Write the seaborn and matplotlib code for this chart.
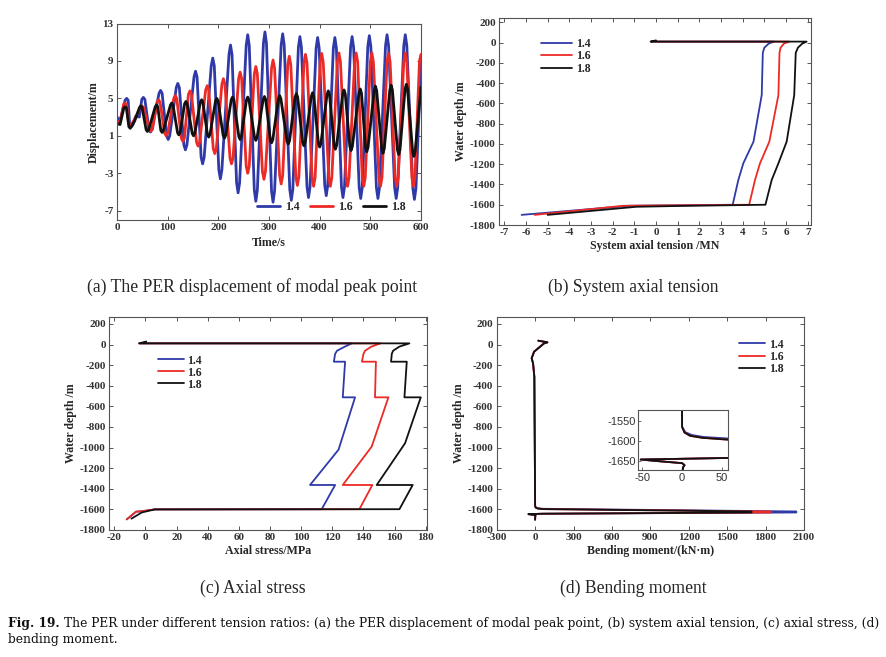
import matplotlib
matplotlib.use("Agg")
import matplotlib.pyplot as plt
import pandas as pd
import seaborn as sns

# --- data ---
ratios = ["1.4", "1.6", "1.8"]
colors = ["#2f3aa8", "#ec2a26", "#111111"]

# (a) displacement of modal peak point (time s, displacement m), peaks/troughs with their shoulders
blue_pts = [(0, 3.0), (6, 2.6), (16, 4.8), (19, 5.0), (22, 4.8), (25, 2.15), (28, 2.0), (31, 2.15), (37, 3.1), (44, 3.0),
            (49, 4.9), (52, 5.1), (55, 4.9), (63, 1.68), (66, 1.4), (69, 1.68), (83, 5.55), (86, 5.85), (89, 5.55),
            (98, 0.99), (101, 0.6), (104, 0.99), (117, 6.16), (120, 6.6), (123, 6.16), (132, 0.02), (135, -0.5), (138, 0.02),
            (152, 7.28), (155, 7.9), (158, 7.28), (166, -1.29), (169, -2.0), (172, -1.29), (186, 8.48), (189, 9.3), (192, 8.48),
            (201, -2.64), (204, -3.6), (207, -2.64), (221, 9.68), (224, 10.7), (227, 9.68), (236, -4.0), (239, -5.1), (242, -4.0),
            (255, 10.65), (258, 11.8), (261, 10.65), (271, -4.8), (274, -6.0), (277, -4.8), (289, 10.88), (292, 12.1), (295, 10.88),
            (305, -4.9), (308, -6.1), (311, -4.9), (324, 10.7), (327, 11.9), (330, 10.7), (341, -4.73), (344, -5.9), (347, -4.73),
            (358, 10.45), (361, 11.6), (364, 10.45), (375, -4.46), (378, -5.6), (381, -4.46), (393, 10.37), (396, 11.5), (399, 10.37),
            (410, -4.27), (413, -5.4), (416, -4.27), (427, 10.37), (430, 11.5), (433, 10.37), (443, -4.46), (446, -5.6), (449, -4.46),
            (461, 10.45), (464, 11.6), (467, 10.45), (478, -4.55), (481, -5.7), (484, -4.55), (495, 10.53), (498, 11.7), (501, 10.53),
            (512, -4.55), (515, -5.7), (518, -4.55), (530, 10.62), (533, 11.8), (536, 10.62), (548, -4.55), (551, -5.7), (554, -4.55),
            (566, 10.62), (569, 11.8), (572, 10.62), (584, -4.63), (587, -5.8), (590, -4.63), (600, 8.8)]
red_pts = [(0, 2.6), (6, 2.4), (13, 4.35), (16, 4.5), (19, 4.35), (23, 2.25), (26, 2.1), (29, 2.25), (36, 2.9),
           (46, 4.06), (49, 4.2), (52, 4.06), (64, 1.7), (67, 1.5), (70, 1.7), (79, 4.6), (82, 4.85), (85, 4.6),
           (94, 1.27), (97, 1.0), (100, 1.27), (112, 4.99), (115, 5.3), (118, 4.99), (127, 0.75), (130, 0.4), (133, 0.75),
           (141, 5.42), (144, 5.8), (147, 5.42), (157, 0.32), (160, -0.1), (163, 0.32), (175, 5.89), (178, 6.35), (181, 5.89),
           (190, -0.38), (193, -0.9), (196, -0.38), (207, 6.5), (210, 7.1), (213, 6.5), (223, -1.37), (226, -2.0), (229, -1.37),
           (240, 7.1), (243, 7.8), (246, 7.1), (255, -2.25), (258, -3.0), (261, -2.25), (271, 7.6), (274, 8.4), (277, 7.6),
           (287, -2.79), (290, -3.65), (293, -2.79), (305, 8.22), (308, 9.1), (311, 8.22), (321, -3.24), (324, -4.15), (327, -3.24),
           (337, 8.58), (340, 9.5), (343, 8.58), (353, -3.36), (356, -4.3), (359, -3.36), (369, 8.76), (372, 9.7), (375, 8.76),
           (385, -3.45), (388, -4.4), (391, -3.45), (401, 8.85), (404, 9.8), (407, 8.85), (418, -3.45), (421, -4.4), (424, -3.45),
           (435, 8.9), (438, 9.85), (441, 8.9), (452, -3.45), (455, -4.4), (458, -3.45), (469, 8.9), (472, 9.85), (475, 8.9),
           (484, -3.45), (487, -4.4), (490, -3.45), (500, 8.9), (503, 9.85), (506, 8.9), (517, -3.45), (520, -4.4), (523, -3.45),
           (533, 8.9), (536, 9.85), (539, 8.9), (549, -3.45), (552, -4.4), (555, -3.45), (566, 8.9), (569, 9.85), (572, 8.9),
           (582, -3.45), (585, -4.4), (588, -3.45), (597, 9.0), (600, 9.7)]
black_pts = [(0, 2.3), (6, 2.2), (13.5, 3.97), (16, 4.1), (18.5, 3.97), (23.5, 1.96), (26, 1.8), (28.5, 1.96), (35, 2.6),
             (44.5, 4.03), (47, 4.2), (49.5, 4.03), (57.5, 1.65), (60, 1.46), (62.5, 1.65), (75.5, 4.11), (78, 4.3), (80.5, 4.11),
             (86.5, 1.56), (89, 1.36), (91.5, 1.56), (105.5, 4.29), (108, 4.5), (110.5, 4.29), (119.5, 1.33), (122, 1.1), (124.5, 1.33),
             (133.5, 4.43), (136, 4.67), (138.5, 4.43), (148.5, 1.25), (151, 1.0), (153.5, 1.25), (164.5, 4.59), (167, 4.85), (169.5, 4.59),
             (178.5, 1.13), (181, 0.86), (183.5, 1.13), (194.5, 4.72), (197, 5.0), (199.5, 4.72), (209.5, 1.04), (212, 0.75), (214.5, 1.04),
             (225.5, 4.84), (228, 5.14), (230.5, 4.84), (240.5, 0.91), (243, 0.6), (245.5, 0.91), (255.5, 4.83), (258, 5.14), (260.5, 4.83),
             (271.5, 0.81), (274, 0.5), (276.5, 0.81), (288.5, 4.88), (291, 5.2), (293.5, 4.88), (302.5, 0.58), (305, 0.25), (307.5, 0.58),
             (318.5, 4.95), (321, 5.3), (323.5, 4.95), (335.5, 0.46), (338, 0.1), (340.5, 0.46), (351.5, 5.14), (354, 5.5), (356.5, 5.14),
             (366.5, 0.3), (369, -0.07), (371.5, 0.3), (383.5, 5.21), (386, 5.6), (388.5, 5.21), (397.5, 0.19), (400, -0.2), (402.5, 0.19),
             (414.5, 5.39), (417, 5.8), (419.5, 5.39), (428.5, -0.01), (431, -0.43), (433.5, -0.01), (445.5, 5.47), (448, 5.9), (450.5, 5.47),
             (459.5, -0.13), (462, -0.57), (464.5, -0.13), (477.5, 5.56), (480, 6.0), (482.5, 5.56), (490.5, -0.24), (493, -0.7), (495.5, -0.24),
             (507.5, 5.82), (510, 6.3), (512.5, 5.82), (522.5, -0.38), (525, -0.86), (527.5, -0.38), (538.5, 5.9), (541, 6.4), (543.5, 5.9),
             (553.5, -0.5), (556, -1.0), (558.5, -0.5), (568.5, 5.99), (571, 6.5), (573.5, 5.99), (583.5, -0.69), (586, -1.2), (588.5, -0.69),
             (600, 6.2)]

# (b) system axial tension (MN) vs water depth (m)
ten_blue_x = [-0.2, 5.45, 5.2, 5.0, 4.93, 4.88, 4.5, 4.03, 3.8, 3.54, -1.2, -6.2]
ten_blue_d = [10, 10, -10, -50, -100, -517, -978, -1191, -1356, -1600, -1610, -1700]
ten_red_x = [-0.2, 6.15, 5.9, 5.75, 5.7, 5.65, 5.23, 4.8, 4.57, 4.3, -1.5, -5.6]
ten_red_d = [10, 10, -10, -50, -100, -517, -978, -1191, -1356, -1600, -1610, -1700]
ten_black_x = [0.0, -0.25, 6.95, 6.75, 6.55, 6.45, 6.38, 6.03, 5.65, 5.34, 5.05, 1.1, -0.9, -5.0]
ten_black_d = [22, 10, 10, -10, -50, -100, -517, -978, -1191, -1356, -1600, -1612, -1620, -1700]

# (c) axial stress (MPa) vs water depth (m)
st_blue_x = [-4, 132.5, 128, 123, 121.8, 121, 128.2, 126.7, 134.6, 124, 105.7, 121.8, 113.2, 6, -2.4, -6, -12]
st_blue_d = [12, 12, -20, -60, -90, -166, -166, -512, -512, -1020, -1363, -1363, -1598, -1600, -1618, -1622, -1697]
st_red_x = [-4, 151, 145, 141, 140, 139, 148, 147.4, 156, 145.3, 126.7, 145.7, 137.4, 6, -2.4, -6, -12]
st_red_d = [12, 12, -20, -60, -90, -166, -166, -512, -512, -990, -1363, -1363, -1598, -1600, -1618, -1622, -1697]
st_black_x = [0.5, -4, 169.5, 163, 159, 158.2, 157.7, 167.8, 166.3, 176.8, 166.7, 148.5, 171.6, 163.1, 6, -2.4, -9]
st_black_d = [30, 12, 12, -20, -60, -90, -166, -166, -512, -512, -958, -1363, -1363, -1598, -1600, -1630, -1690]

# (d) bending moment (kN·m) vs water depth (m)
bm_blue_x = [25, 96, 70, -8, -27, -16, -6, 0, 0, 4, 12, 27, 60, 2040, 2040, 60, -52, -30, 0, 3, 1, 0]
bm_blue_d = [38, 22, 12, -69, -133, -182, -311, -1540, -1565, -1578, -1585, -1590, -1594, -1620, -1630, -1642, -1646, -1650, -1655, -1660, -1666, -1700]
bm_red_x = [25, 96, 70, -8, -27, -16, -6, 0, 0, 3, 10, 25, 60, 1840, 1840, 60, -52, -30, 0, 3, 1, 0]
bm_red_d = [38, 22, 12, -69, -133, -182, -311, -1540, -1565, -1579, -1587, -1592, -1597, -1620, -1630, -1642, -1646, -1650, -1655, -1660, -1666, -1700]
bm_black_x = [25, 96, 70, -8, -27, -16, -6, 0, 0, 3, 10, 25, 60, 1690, 1690, 60, -52, -30, 0, 3, 1, 0]
bm_black_d = [38, 22, 12, -69, -133, -182, -311, -1540, -1565, -1579, -1587, -1592, -1597, -1620, -1630, -1642, -1646, -1650, -1655, -1660, -1666, -1700]


def frame(xs, ys, xname, yname):
    parts = []
    for r, x, y in zip(ratios, xs, ys):
        parts.append(pd.DataFrame({xname: list(x), yname: list(y), "ratio": r}))
    return pd.concat(parts, ignore_index=True)


series_a = [list(zip(*pts)) for pts in (blue_pts, red_pts, black_pts)]
df_a = frame([s[0] for s in series_a], [s[1] for s in series_a], "time", "disp")
df_b = frame([ten_blue_x, ten_red_x, ten_black_x], [ten_blue_d, ten_red_d, ten_black_d], "tension", "depth")
df_c = frame([st_blue_x, st_red_x, st_black_x], [st_blue_d, st_red_d, st_black_d], "stress", "depth")
df_d = frame([bm_blue_x, bm_red_x, bm_black_x], [bm_blue_d, bm_red_d, bm_black_d], "moment", "depth")

sns.set_style("ticks")
plt.rcParams["font.family"] = ["Liberation Serif", "DejaVu Serif"]
plt.rcParams["font.weight"] = "bold"
plt.rcParams["axes.labelweight"] = "bold"
plt.rcParams["axes.unicode_minus"] = False

W, H = 887, 657
fig = plt.figure(figsize=(W / 100, H / 100), dpi=100)
pal = dict(zip(ratios, colors))
TICK, LAB = 8, 8.6


def px_axes(left, top, right, bottom):
    return fig.add_axes([left / W, 1 - bottom / H, (right - left) / W, (bottom - top) / H])


def style(ax, size=TICK):
    for s in ax.spines.values():
        s.set_color("#555555")
        s.set_linewidth(0.8)
    ax.tick_params(direction="in", top=True, right=True, length=3, width=0.7,
                   labelsize=size, color="#555555", labelcolor="#333333", pad=2.5)


def draw(ax, df, x, y, lw):
    sns.lineplot(data=df, x=x, y=y, hue="ratio", palette=pal, sort=False,
                 estimator=None, linewidth=lw, ax=ax, solid_joinstyle="round")


# --- (a) displacement ---
ax = px_axes(117, 23.5, 421, 220)
draw(ax, df_a, "time", "disp", 2.0)
ax.set_xlim(0, 600)
ax.set_ylim(-8, 13)
ax.set_xticks(range(0, 601, 100))
ax.set_yticks([-7, -3, 1, 5, 9, 13])
ax.set_xlabel("Time/s", fontsize=LAB, labelpad=3)
ax.set_ylabel("Displacement/m", fontsize=LAB, labelpad=2)
style(ax)
sns.move_legend(ax, "lower right", bbox_to_anchor=(0.985, -0.02), ncol=3, frameon=False,
                title=None, fontsize=8.5, handlelength=1.9, columnspacing=0.9, handletextpad=0.45)

# --- (b) system axial tension ---
ax = px_axes(499.3, 18.3, 810.7, 225)
draw(ax, df_b, "tension", "depth", 1.3)
ax.set_xlim(-7.23, 7.14)
ax.set_ylim(-1800, 240)
ax.set_xticks(range(-7, 8))
ax.set_yticks(range(-1800, 201, 200))
ax.set_xlabel("System axial tension /MN", fontsize=LAB, labelpad=2)
ax.set_ylabel("Water depth /m", fontsize=LAB, labelpad=2)
style(ax)
sns.move_legend(ax, "upper left", bbox_to_anchor=(0.1, 0.955), frameon=False, title=None,
                fontsize=8.5, handlelength=2.6, handletextpad=0.4, labelspacing=0.02)

# --- (c) axial stress ---
ax = px_axes(109.3, 317.3, 426.7, 530)
draw(ax, df_c, "stress", "depth", 1.3)
ax.set_xlim(-23.2, 180.6)
ax.set_ylim(-1800, 265)
ax.set_xticks(range(-20, 181, 20))
ax.set_yticks(range(-1800, 201, 200))
ax.set_xlabel("Axial stress/MPa", fontsize=LAB, labelpad=2)
ax.set_ylabel("Water depth /m", fontsize=LAB, labelpad=2)
style(ax)
sns.move_legend(ax, "upper left", bbox_to_anchor=(0.12, 0.875), frameon=False, title=None,
                fontsize=8.5, handlelength=2.2, handletextpad=0.3, labelspacing=0.0)

# --- (d) bending moment ---
ax = px_axes(496.7, 317.3, 804, 530)
draw(ax, df_d, "moment", "depth", 1.3)
ax.set_xlim(-300, 2100)
ax.set_ylim(-1800, 265)
ax.set_xticks(range(-300, 2101, 300))
ax.set_yticks(range(-1800, 201, 200))
ax.set_xlabel("Bending moment/(kN·m)", fontsize=LAB, labelpad=2)
ax.set_ylabel("Water depth /m", fontsize=LAB, labelpad=2)
style(ax)
sns.move_legend(ax, "upper left", bbox_to_anchor=(0.755, 0.95), frameon=False, title=None,
                fontsize=8.5, handlelength=2.2, handletextpad=0.3, labelspacing=0.02)

# inset of (d)
axi = px_axes(638.3, 410, 728.3, 470)
draw(axi, df_d, "moment", "depth", 1.3)
axi.get_legend().remove()
axi.set_xlim(-55, 58)
axi.set_ylim(-1672, -1523)
axi.set_xticks([-50, 0, 50])
axi.set_yticks([-1550, -1600, -1650])
axi.set_xlabel("")
axi.set_ylabel("")
for s in axi.spines.values():
    s.set_color("#555555")
    s.set_linewidth(0.8)
axi.tick_params(direction="in", length=2, width=0.6, labelsize=8, color="#555555",
                labelcolor="#333333", pad=2)
for lab in axi.get_xticklabels() + axi.get_yticklabels():
    lab.set_fontweight("normal")
    lab.set_family(["Liberation Sans", "DejaVu Sans"])

# --- captions ---
cap = dict(fontsize=12.7, fontweight="normal", family=["Liberation Serif"], ha="center", va="center")
fig.text(252.5 / W, 1 - 287 / H, "(a) The PER displacement of modal peak point", **cap)
fig.text(633 / W, 1 - 287 / H, "(b) System axial tension", **cap)
fig.text(252.5 / W, 1 - 588 / H, "(c) Axial stress", **cap)
fig.text(633 / W, 1 - 588 / H, "(d) Bending moment", **cap)

fc = dict(fontsize=8.8, family=["DejaVu Serif"], va="center", ha="left", color="#111111")
t1 = fig.text(8 / W, 1 - 623 / H, "Fig. 19.", fontweight="bold", **fc)
fig.canvas.draw()
bb = t1.get_window_extent(fig.canvas.get_renderer())
fig.text((bb.x1 + 4) / W, 1 - 623 / H,
         "The PER under different tension ratios: (a) the PER displacement of modal peak point, "
         "(b) system axial tension, (c) axial stress, (d)", fontweight="normal", **fc)
fig.text(8 / W, 1 - 640 / H, "bending moment.", fontweight="normal", **fc)

fig.savefig("out.png", dpi=100, facecolor="white")
